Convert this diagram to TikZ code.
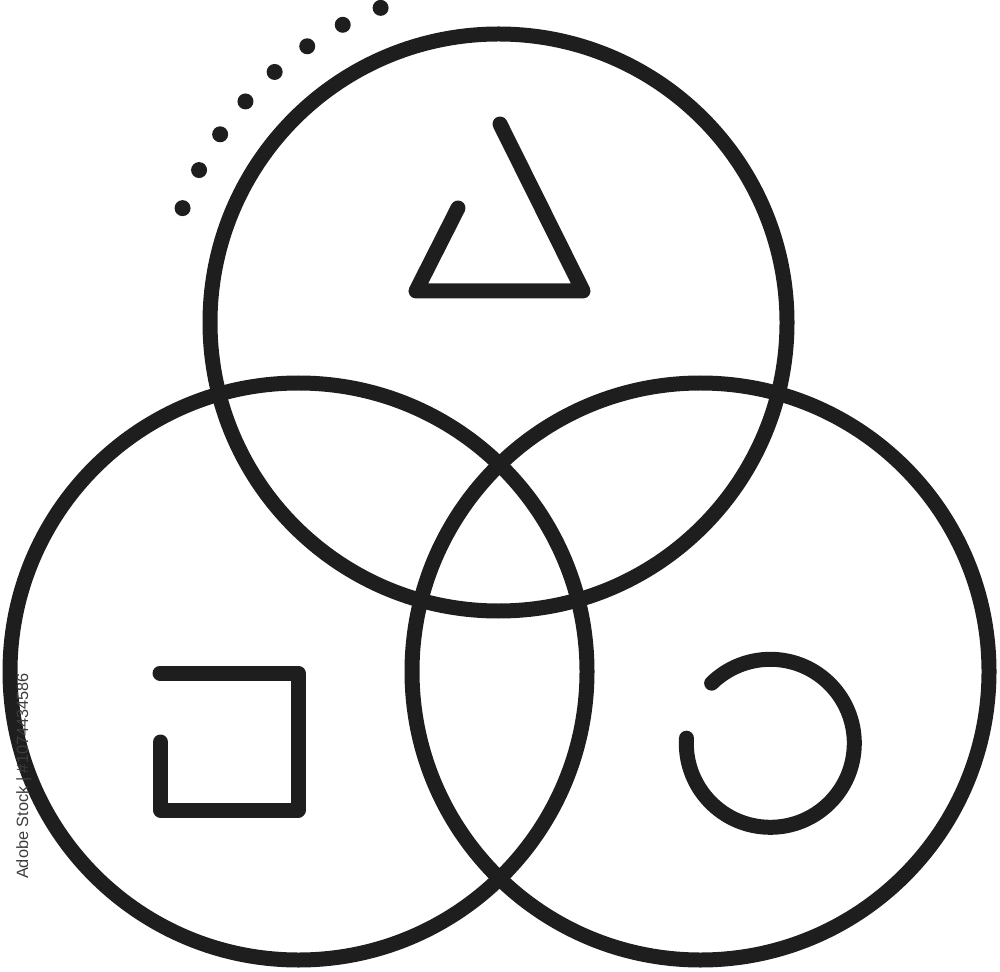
\documentclass[tikz,border=0pt]{standalone}
\usepackage{fontspec}
\setmainfont{Liberation Sans}
\definecolor{ink}{RGB}{30,30,30}
\definecolor{wm}{RGB}{60,60,60}
\begin{document}
\begin{tikzpicture}[x=0.02cm,y=0.02cm,
  stroke/.style={draw=ink,line width=0.3cm,line cap=round,line join=round},
  dotmark/.style={fill=ink},
  wmtext/.style={rotate=90,text=wm,inner sep=0pt,font=\fontsize{9.3}{11}\selectfont}]
\useasboundingbox (0,0) rectangle (1000,971);
% circle centres
\coordinate (ct) at (498.5,648.5);
\coordinate (cl) at (298.5,299.5);
\coordinate (cr) at (700.5,299.5);
\coordinate (cc) at (770.3,227.7);
% three circles
\draw[stroke] (ct) circle[radius=288.5];
\draw[stroke] (cl) circle[radius=288.5];
\draw[stroke] (cr) circle[radius=288.5];
% open triangle
\draw[stroke] (500,847) -- (583,680) -- (416,680) -- (458,763);
% open square
\draw[stroke] (160,298) -- (298,298) -- (298,161) -- (160.5,161) -- (160.5,229);
% open circle
\draw[stroke] (cc) ++(176.5:84) arc[start angle=176.5,end angle=494.3,radius=84];
% dotted arc
\foreach \i in {0,...,7}
  \fill[dotmark] (ct) ++({160.1-7.08*\i}:336) circle[radius=8];
% vertical stock id
\node[wmtext] (wmark) at (24,195) {Adobe Stock | \#1074434586};
\end{tikzpicture}
\end{document}
